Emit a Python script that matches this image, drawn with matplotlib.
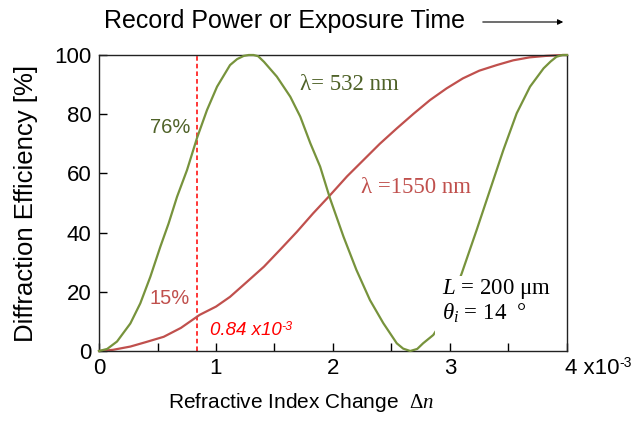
import matplotlib
matplotlib.use("Agg")
import matplotlib.pyplot as plt
from matplotlib.ticker import MultipleLocator
from matplotlib.patches import Rectangle

# ---- data ----
green_x = [0, 0.07, 0.154, 0.268, 0.353, 0.439, 0.524, 0.595, 0.667, 0.752, 0.838, 0.923,
           1.009, 1.12, 1.18, 1.237, 1.28, 1.32, 1.36, 1.41, 1.52, 1.635, 1.72, 1.806,
           1.89, 1.974, 2.09, 2.2, 2.316, 2.43, 2.545, 2.6, 2.66, 2.72, 2.77, 2.857,
           2.95, 3.0, 3.1, 3.228, 3.342, 3.456, 3.57, 3.684, 3.8, 3.86, 3.91, 3.96, 4.0]
green_y = [0, 0.7, 3.2, 9.3, 16.1, 25.1, 35.2, 43.1, 52.1, 61.1, 72, 81.4,
           89.3, 96.6, 98.6, 99.7, 100, 100, 99.6, 97.7, 92.7, 85.9, 79.2, 70.2,
           62.3, 51.6, 38.6, 27.4, 17.2, 9.4, 2.6, 0.8, 0, 0.7, 2.6, 5.4,
           11, 16, 26.2, 40.9, 54.4, 67.9, 80.3, 89.3, 95.5, 97.8, 99.4, 100, 100]
red_x = [0, 0.12, 0.268, 0.4, 0.553, 0.7, 0.86, 1.0, 1.12, 1.26, 1.41, 1.55, 1.69, 1.83,
         1.974, 2.12, 2.26, 2.4, 2.545, 2.69, 2.83, 2.97, 3.11, 3.25, 3.4, 3.54, 3.68,
         3.82, 3.97, 4.0]
red_y = [0, 0.4, 1.5, 3.0, 4.8, 7.8, 12.2, 15.0, 18.3, 23.2, 28.5, 34.3, 40.2, 46.5,
         52.6, 59, 64.5, 70, 75.2, 80.2, 84.8, 88.7, 92.1, 94.7, 96.6, 98.2, 99.2,
         99.7, 100, 100]
marker_dn = 0.84
x_major = [0, 1, 2, 3, 4]
x_labels = ["0", "1", "2", "3", ""]
y_ticks = [0, 20, 40, 60, 80, 100]

GREEN = "#77933c"
DKGREEN = "#4f6228"
RED = "#c0504d"
SANS = ["Liberation Sans", "DejaVu Sans"]
SERIF = ["Liberation Serif", "DejaVu Serif"]

plt.rcParams["mathtext.fontset"] = "custom"
plt.rcParams["mathtext.rm"] = "Liberation Serif"
plt.rcParams["mathtext.it"] = "Liberation Serif:italic"
plt.rcParams["font.family"] = SANS

fig = plt.figure(figsize=(6.32, 4.22), dpi=100)
ax = fig.add_axes([99/632, 71/422, 468/632, 296/422])

ax.plot(green_x, green_y, color=GREEN, lw=1.6, zorder=3, clip_on=False)
ax.plot(red_x, red_y, color=RED, lw=1.6, zorder=2, clip_on=False)
ax.axvline(marker_dn, color="#ff0000", lw=1.1, ls=(0, (3, 2)), zorder=1)

# white box behind the parameter text (covers the curve, as in the reference)
ax.add_patch(Rectangle((2.87, 4.0), 1.07, 21.3, facecolor="white", edgecolor="none",
                       zorder=4))

ax.set_xlim(0, 4)
ax.set_ylim(0, 100)
ax.set_xticks(x_major)
ax.set_xticklabels(x_labels)
ax.xaxis.set_minor_locator(MultipleLocator(0.5))
ax.set_yticks(y_ticks)
ax.tick_params(axis="both", which="both", direction="in", length=6, width=1,
               labelsize=16, colors="black")
ax.tick_params(axis="x", pad=5)
ax.tick_params(axis="y", pad=5.5)
for s in ax.spines.values():
    s.set_linewidth(1.0)
    s.set_color("#222222")

ax.set_ylabel("Diffraction Efficiency [%]", fontsize=18.5)
ax.yaxis.set_label_coords(-0.13, 0.5)
ax.set_xlabel(r"Refractive Index Change  $\Delta n$", fontsize=15)
ax.xaxis.set_label_coords(0.432, -0.135)

# last tick label with exponent
t4 = ax.text(3.98, -0.0236, "4 x10", transform=ax.get_xaxis_transform(), ha="left",
             va="top", fontsize=16, clip_on=False)
ax.annotate("-3", xy=(1.0, 1.0), xycoords=t4, xytext=(0.5, 1.5), textcoords="offset points",
            ha="left", va="top", fontsize=10, annotation_clip=False)

# annotations
ax.text(0.607, 75.5, "76%", color=DKGREEN, fontsize=14.5, ha="center", va="center")
ax.text(0.607, 17.7, "15%", color=RED, fontsize=14.5, ha="center", va="center")
t84 = ax.text(0.946, 6.9, "0.84 x10", color="#ff0000", fontsize=13.5, style="italic",
              ha="left", va="center")
ax.annotate("-3", xy=(1.0, 1.0), xycoords=t84, xytext=(0.3, 1.0), textcoords="offset points",
            ha="left", va="top", fontsize=9, style="italic", color="#ff0000")
ax.text(1.72, 89.9, "λ= 532 nm", color=DKGREEN, fontsize=16.5, family=SERIF,
        ha="left", va="center")
ax.text(2.237, 55.2, "λ =1550 nm", color=RED, fontsize=16.5, family=SERIF,
        ha="left", va="center")
ax.text(2.93, 21.0, "$L$ = 200 μm", color="black", fontsize=16.5,
        family=SERIF, ha="left", va="center", zorder=5)
ax.text(2.93, 12.6, r"$\theta_i$ = 14  °", color="black", fontsize=16.5,
        family=SERIF, ha="left", va="center", zorder=5)

# header with arrow
fig.text(104/632, 1 - 21/422, "Record Power or Exposure Time", fontsize=18,
         ha="left", va="center")
ax.annotate("", xy=(566/632, 1 - 22/422), xytext=(480/632, 1 - 22/422),
            xycoords="figure fraction", textcoords="figure fraction",
            arrowprops=dict(arrowstyle="-|>", color="black", lw=0.8, mutation_scale=8))

fig.savefig("out.png", dpi=100)
